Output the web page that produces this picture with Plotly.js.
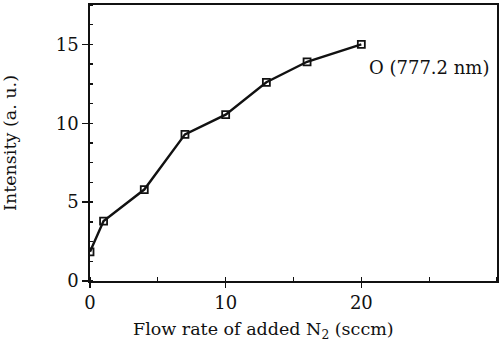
<!DOCTYPE html>
<html>
<head>
<meta charset="utf-8">
<script src="https://cdn.plot.ly/plotly-3.0.1.min.js"></script>
<style>html,body{margin:0;padding:0;background:#fff;}#chart{width:504px;height:342px;}</style>
</head>
<body>
<div id="chart"></div>
<script>
const flowRate = [0, 1, 4, 7, 10, 13, 16, 20];
const intensity = [1.85, 3.8, 5.8, 9.3, 10.55, 12.6, 13.9, 15.0];
const xTicks = [0, 10, 20];
const yTicks = [0, 5, 10, 15];
const seriesLabel = 'O (777.2 nm)';
const xTitle = 'Flow rate of added N<sub>2</sub> (sccm)';
const yTitle = 'Intensity (a. u.)';

const fam = '"DejaVu Serif", "Liberation Serif", serif';
const tickFont = {family: fam, size: 18, color: '#111'};
const titleFont = {family: fam, size: 17.5, color: '#111'};

const trace = {
  x: flowRate, y: intensity, type: 'scatter', mode: 'lines+markers',
  line: {color: '#111', width: 2.4},
  marker: {symbol: 'square-open', size: 7, color: '#111', line: {width: 1.8, color: '#111'}},
  showlegend: false, hoverinfo: 'none'
};

const layout = {
  width: 504, height: 342,
  margin: {l: 90, r: 7, t: 5, b: 61},
  paper_bgcolor: '#fff', plot_bgcolor: '#fff',
  font: tickFont,
  xaxis: {
    range: [0, 30], tickvals: xTicks, ticktext: xTicks.map(String),
    ticks: 'outside', ticklen: 5, tickwidth: 1.4, tickcolor: '#111',
    minor: {dtick: 5, tick0: 0, ticks: 'inside', ticklen: 4, tickwidth: 1.3, tickcolor: '#111'},
    showgrid: false, zeroline: false, showline: true, linecolor: '#111', linewidth: 1.8, mirror: true,
    tickfont: tickFont
  },
  yaxis: {
    range: [0, 17.5], tickvals: yTicks, ticktext: yTicks.map(String),
    ticks: 'outside', ticklen: 6, tickwidth: 1.4, tickcolor: '#111',
    minor: {dtick: 1.25, tick0: 0, ticks: 'inside', ticklen: 3, tickwidth: 1.3, tickcolor: '#111'},
    showgrid: false, zeroline: false, showline: true, linecolor: '#111', linewidth: 1.8, mirror: true,
    tickfont: tickFont,
    title: {text: yTitle, font: titleFont, standoff: 34}
  },
  annotations: [
    {x: 0.832, y: 13.55, xref: 'paper', yref: 'y', text: seriesLabel,
     showarrow: false, xanchor: 'center', yanchor: 'middle', font: {family: fam, size: 18, color: '#111'}},
    {x: 0.4275, y: -0.18, xref: 'paper', yref: 'paper', text: xTitle,
     showarrow: false, xanchor: 'center', yanchor: 'middle', font: titleFont}
  ]
};

Plotly.newPlot('chart', [trace], layout, {displayModeBar: false, staticPlot: true});
</script>
</body>
</html>
